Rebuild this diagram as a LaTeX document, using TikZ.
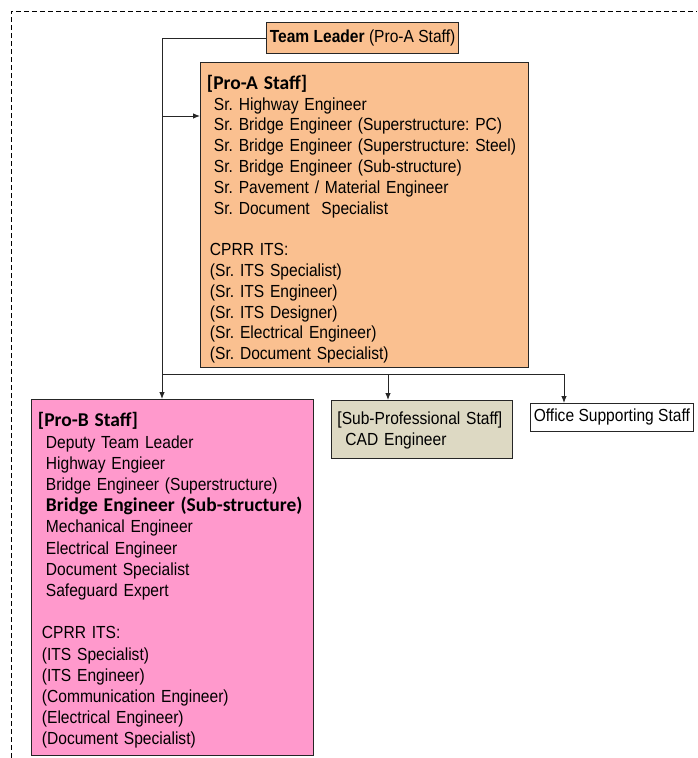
\documentclass[tikz,border=0pt]{standalone}
\usepackage{fontspec}
\setmainfont[FakeStretch=0.89]{Liberation Sans}
\newfontfamily\carlito{Carlito}
\usepackage{xcolor}
\usepackage{tikz}
\usetikzlibrary{arrows.meta}
\definecolor{proA}{HTML}{FAC090}
\definecolor{proB}{HTML}{FF99CC}
\definecolor{subpro}{HTML}{DDD9C3}
\newcommand\hd{\carlito\bfseries\fontsize{19.5}{20.8}\selectfont}
\newcommand\ind[1]{\hspace*{#1pt}}
% taller first line pushes a centred list down
\newcommand\topgap[1]{\rule{0pt}{#1pt}}
\frenchspacing

\begin{document}
\begin{tikzpicture}[x=1pt, y=-1pt,
    staffbox/.style={draw=black!85, line width=0.9pt, anchor=north west, inner ysep=0pt,
      font={\fontsize{17.5}{20.8}\selectfont}},
    listbox/.style={staffbox, align=left, inner xsep=6.5pt},
    conn/.style={line width=0.9pt, draw=black!85},
    arr/.style={conn, -{Latex[length=7pt,width=5.5pt]}}]
    \useasboundingbox (0,0) rectangle (697,758);
    % dashed frame
    \draw[line width=0.7pt, dash pattern=on 5pt off 3pt] (11,758) -- (11,11) -- (697,11);

    \node[staffbox, fill=proA, minimum width=191pt, minimum height=31pt] (tl) at (266,22)
        {\textbf{Team Leader} (Pro-A Staff)};

    \node[listbox, fill=proA, text width=315pt, minimum height=305pt] (proA) at (200,62) {%
        \topgap{22.6}{\hd [Pro-A Staff]}\\
        \ind{7}Sr. Highway Engineer\\
        \ind{7}Sr. Bridge Engineer (Superstructure: PC)\\
        \ind{7}Sr. Bridge Engineer (Superstructure: Steel)\\
        \ind{7}Sr. Bridge Engineer (Sub-structure)\\
        \ind{7}Sr. Pavement / Material Engineer\\
        \ind{7}Sr. Document\ \ Specialist\\
        \mbox{}\\
        \ind{3}CPRR ITS:\\
        \ind{3}(Sr. ITS Specialist)\\
        \ind{3}(Sr. ITS Engineer)\\
        \ind{3}(Sr. ITS Designer)\\
        \ind{3}(Sr. Electrical Engineer)\\
        \ind{3}(Sr. Document Specialist)};

    \node[listbox, fill=proB, text width=269pt, minimum height=356pt,
        font={\fontsize{17.5}{21.2}\selectfont}] (proB) at (31,399) {%
        \topgap{20.6}{\hd [Pro-B Staff]}\\
        \ind{8}Deputy Team Leader\\
        \ind{8}Highway Engieer\\
        \ind{8}Bridge Engineer (Superstructure)\\
        \ind{8}{\hd Bridge Engineer (Sub-structure)}\\
        \ind{8}Mechanical Engineer\\
        \ind{8}Electrical Engineer\\
        \ind{8}Document Specialist\\
        \ind{8}Safeguard Expert\\
        \mbox{}\\
        \ind{4}CPRR ITS:\\
        \ind{4}(ITS Specialist)\\
        \ind{4}(ITS Engineer)\\
        \ind{4}(Communication Engineer)\\
        \ind{4}(Electrical Engineer)\\
        \ind{4}(Document Specialist)};

    \node[listbox, fill=subpro, text width=169pt, minimum height=58pt, inner xsep=6pt] (sub) at (331,400) {%
        \topgap{15}[Sub-Professional Staff]\\
        \ind{8}CAD Engineer};

    \node[staffbox, minimum width=162pt, minimum height=28pt] (off) at (530,403)
        {Office Supporting Staff};

    % connectors
    \coordinate (trunk) at (162,0);
    \coordinate (tapA) at (162,116);
    \coordinate (bus) at (162,374);
    \coordinate (busM) at (388,374);
    \coordinate (busE) at (564,374);
    \draw[arr] (tl.west) -| (trunk |- proB.north);
    \draw[arr] (tapA) -- (tapA -| proA.west);
    \draw[conn] (bus) -- (busE);
    \draw[arr] (busM) -- (busM |- sub.north);
    \draw[arr] (busE) -- (busE |- off.north);
\end{tikzpicture}
\end{document}
